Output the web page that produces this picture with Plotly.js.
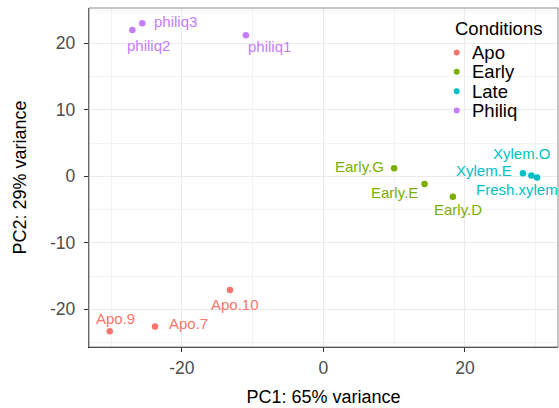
<!DOCTYPE html>
<html>
<head>
<meta charset="utf-8">
<script src="https://cdn.plot.ly/plotly-3.0.1.min.js"></script>
<style>html,body{margin:0;padding:0;background:#fff;}#chart{width:559px;height:408px;}</style>
</head>
<body>
<div id="chart"></div>
<script>
// ---- data ----
const samples    = ['philiq1','philiq2','philiq3','Early.G','Early.E','Early.D','Xylem.E','Xylem.O','Fresh.xylem','Apo.10','Apo.7','Apo.9'];
const conditions = ['Philiq','Philiq','Philiq','Early','Early','Early','Late','Late','Late','Apo','Apo','Apo'];
const pc1        = [-10.95, -27.0, -25.6, 10.0, 14.3, 18.3, 28.2, 29.4, 30.2, -13.2, -23.8, -30.2];
const pc2        = [21.2, 22.0, 23.0, 1.2, -1.16, -3.07, 0.45, 0.1, -0.2, -17.1, -22.6, -23.3];
const conditionLevels = ['Apo','Early','Late','Philiq'];
const xTickVals = [-20, 0, 20];
const yTickVals = [-20, -10, 0, 10, 20];

// ---- styling (not data) ----
const palette = {Apo:'#F8766D', Early:'#7CAE00', Late:'#00BFC4', Philiq:'#C77CFF'};
const labelDx = [24, 16, 33.7, -34.6, -29.9, 5.6, -38.6, -9.2, -19.8, 5, 33, 5.8];
const labelDy = [-11.7, -16, 1.6, 1.6, -8.7, -12.6, 2.6, 21.7, -11.6, -14.3, 3.4, 12.3];

const traces = conditionLevels.map(c => {
  const idx = samples.map((s,i)=>i).filter(i => conditions[i] === c);
  return {
    type: 'scatter', mode: 'markers', name: c, showlegend: false,
    x: idx.map(i => pc1[i]), y: idx.map(i => pc2[i]),
    text: idx.map(i => samples[i]),
    marker: {color: palette[c], size: 6.5},
    hoverinfo: 'text+x+y'
  };
});

const annotations = samples.map((s,i) => ({
  x: pc1[i], y: pc2[i], xref: 'x', yref: 'y', text: s, showarrow: false,
  xshift: labelDx[i], yshift: labelDy[i], xanchor: 'center', yanchor: 'middle',
  font: {family: 'Liberation Sans, Arial, sans-serif', size: 15, color: palette[conditions[i]]}
}));

// custom legend (paper coordinates)
const legX = 0.784, legTextX = 0.812, legY0 = 0.869, legStep = 0.0572;
annotations.push({
  xref: 'paper', yref: 'paper', x: 0.777, y: 0.940, xanchor: 'left', yanchor: 'middle',
  text: 'Conditions', showarrow: false,
  font: {family: 'Liberation Sans, Arial, sans-serif', size: 18.5, color: '#000'}
});
const shapes = [
  {type: 'rect', xref: 'paper', yref: 'paper', x0: 0.752, x1: 1.0, y0: 0.631, y1: 0.994,
   fillcolor: '#ffffff', line: {width: 0}, layer: 'between'}
];
conditionLevels.forEach((c, k) => {
  const yy = legY0 - k * legStep;
  annotations.push({
    xref: 'paper', yref: 'paper', x: legTextX, y: yy, xanchor: 'left', yanchor: 'middle',
    text: c, showarrow: false,
    font: {family: 'Liberation Sans, Arial, sans-serif', size: 18.5, color: '#000'}
  });
  shapes.push({
    type: 'circle', xref: 'paper', yref: 'paper', xsizemode: 'pixel', ysizemode: 'pixel',
    xanchor: legX, yanchor: yy, x0: -3, x1: 3, y0: -3, y1: 3,
    fillcolor: palette[c], line: {width: 0}, layer: 'above'
  });
});
// panel border
shapes.push({type: 'rect', xref: 'paper', yref: 'paper', x0: 0, x1: 1, y0: 0, y1: 1,
  line: {color: '#8a8a8a', width: 1}, fillcolor: 'rgba(0,0,0,0)', layer: 'above'});

const layout = {
  width: 559, height: 408,
  margin: {l: 89, r: 1, t: 8, b: 61, pad: 0},
  paper_bgcolor: '#fff', plot_bgcolor: '#fff',
  font: {family: 'Liberation Sans, Arial, sans-serif'},
  showlegend: false,
  xaxis: {
    range: [-33.13, 33.16], tickvals: xTickVals, ticktext: xTickVals.map(String),
    showgrid: true, gridcolor: '#ebebeb', gridwidth: 1, zeroline: false,
    minor: {tick0: 10, dtick: 20, showgrid: true, gridcolor: '#f3f3f3', gridwidth: 1, ticks: ''},
    showline: true, linecolor: '#1a1a1a', linewidth: 1.2,
    ticks: 'outside', ticklen: 4, tickcolor: '#333', tickwidth: 1,
    ticklabelstandoff: 1,
    tickfont: {size: 17.5, color: '#4d4d4d'},
    title: {text: 'PC1: 65% variance', font: {size: 18, color: '#000'}, standoff: 13},
    automargin: false
  },
  yaxis: {
    range: [-25.67, 25.3], tickvals: yTickVals, ticktext: yTickVals.map(String),
    showgrid: true, gridcolor: '#ebebeb', gridwidth: 1, zeroline: false,
    minor: {tick0: 5, dtick: 10, showgrid: true, gridcolor: '#f3f3f3', gridwidth: 1, ticks: ''},
    showline: true, linecolor: '#444', linewidth: 1.2,
    ticks: 'outside', ticklen: 4, tickcolor: '#333', tickwidth: 1,
    ticklabelstandoff: 5,
    tickfont: {size: 17.5, color: '#4d4d4d'},
    title: {text: 'PC2: 29% variance', font: {size: 18, color: '#000'}, standoff: 18},
    automargin: false
  },
  annotations: annotations,
  shapes: shapes
};

Plotly.newPlot('chart', traces, layout, {displayModeBar: false, staticPlot: true});
</script>
</body>
</html>
